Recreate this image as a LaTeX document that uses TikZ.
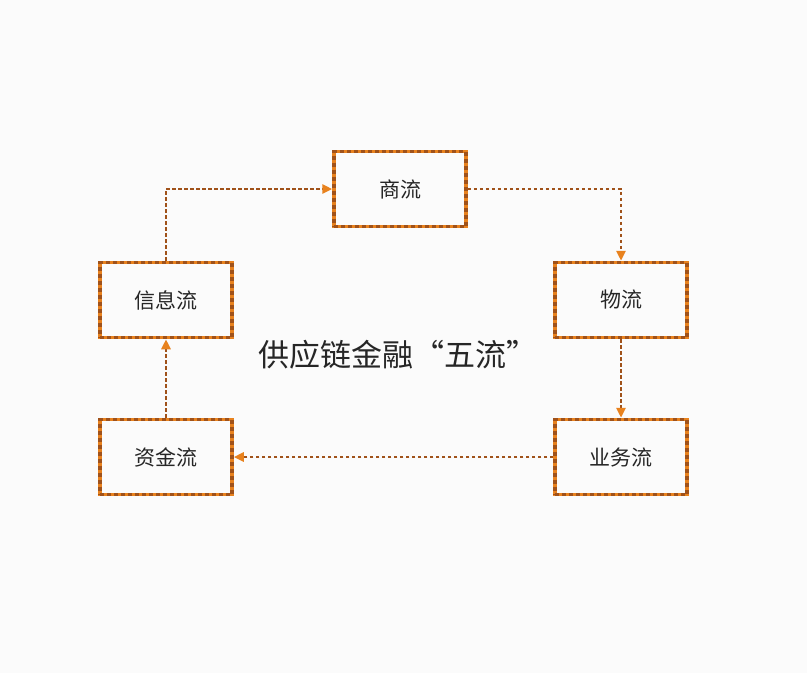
\documentclass[tikz,border=0pt]{standalone}
\usepackage{fontspec}
\newfontfamily\cjk{Noto Sans CJK SC}
\usetikzlibrary{arrows.meta}
\definecolor{org}{HTML}{E8821E}
\definecolor{brn}{HTML}{A0521A}
\begin{document}
\begin{tikzpicture}[x=1pt,y=-1pt,
 box/.style={minimum width=132pt,minimum height=75pt,draw=org,line width=3.5pt,
   font=\cjk\fontsize{21}{24}\selectfont,text=black!85,
   postaction={draw=brn,line width=3.5pt,dash pattern=on 4pt off 3pt}},
 flow/.style={draw=brn,line width=2.6pt,dash pattern=on 3.5pt off 2.5pt,-{Triangle[length=10pt,width=9pt,fill=org,color=org]}}]
\fill[white!97!gray] (0,0) rectangle (807,673);
\node[box] (sl) at (400,189) {商流};
\node[box] (xx) at (166,300) {信息流};
\node[box] (wl) at (621,300) {物流};
\node[box] (zj) at (166,457) {资金流};
\node[box] (yw) at (621,457) {业务流};
\node[font=\cjk\fontsize{31}{34}\selectfont,text=black!85] (t) at (398,355) {供应链金融“五流”};
\draw[flow] (xx.north) |- (sl.west);
\draw[flow] (sl.east) -| (wl.north);
\draw[flow] (wl.south) -- (yw.north);
\draw[flow] (yw.west) -- (zj.east);
\draw[flow] (zj.north) -- (xx.south);
\end{tikzpicture}
\end{document}
